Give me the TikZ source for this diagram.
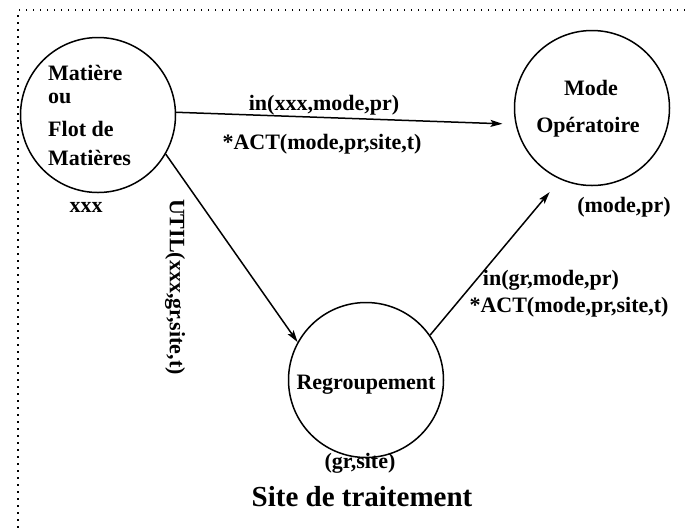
\documentclass[tikz,border=0pt]{standalone}
\usepackage{fontspec}
\setmainfont{Liberation Serif}
\usetikzlibrary{arrows.meta}
\tikzset{
  bubble/.style={circle, draw, line width=1.5pt, minimum size=155pt, inner sep=0pt},
  lbl/.style={inner sep=0pt, font=\fontsize{22}{24}\selectfont\bfseries},
  conn/.style={line width=1.5pt, -{Stealth[length=12pt,width=7pt,inset=2.5pt]}},
  frame/.style={line width=1.5pt, dash pattern=on 1.5pt off 5.5pt}
}
\begin{document}
\begin{tikzpicture}[x=1pt,y=-1pt]
\useasboundingbox (0,0) rectangle (685,531);
\draw[frame] (685,10) -- (18,10) -- (18,531);
% circles
\node[bubble] (mat) at (98,115) {};
\node[bubble] (mode) at (592,108) {};
\node[bubble] (reg) at (366,380) {};
% texts in and near circles
\node[lbl, anchor=base west] (t1) at (48,80) {Matière};
\node[lbl, anchor=base west] (t2) at (48,103) {ou};
\node[lbl, anchor=base west] (t3) at (48,136) {Flot de};
\node[lbl, anchor=base west] (t4) at (48,165) {Matières};
\node[lbl] (xxx) at (86,207) {xxx};
\node[lbl] (m1) at (591,88) {Mode};
\node[lbl] (m2) at (588,127) {Opératoire};
\node[lbl] (mp) at (624,207) {(mode,pr)};
\node[lbl] (rg) at (366,385) {Regroupement};
\node[lbl] (gs) at (360,463) {(gr,site)};
\node[inner sep=0pt, font=\fontsize{29}{31}\selectfont\bfseries] (site) at (362,497) {Site de traitement};
% connectors
\draw[conn, shorten >=13pt] (mat.2) -- (mode.192);
\draw[conn] (mat.-30) -- (reg.151);
\draw[conn, shorten >=16.5pt] (reg.35) -- (mode.-114);
% connector labels
\node[lbl, anchor=base] (a1) at (324,110) {in(xxx,mode,pr)};
\node[lbl] (a2) at (322,144) {*ACT(mode,pr,site,t)};
\node[lbl, rotate=-90] (a3) at (175,287) {UTIL(xxx,gr,site,t)};
\node[lbl] (a4) at (551,280) {in(gr,mode,pr)};
\node[lbl] (a5) at (569,307) {*ACT(mode,pr,site,t)};
\end{tikzpicture}
\end{document}
